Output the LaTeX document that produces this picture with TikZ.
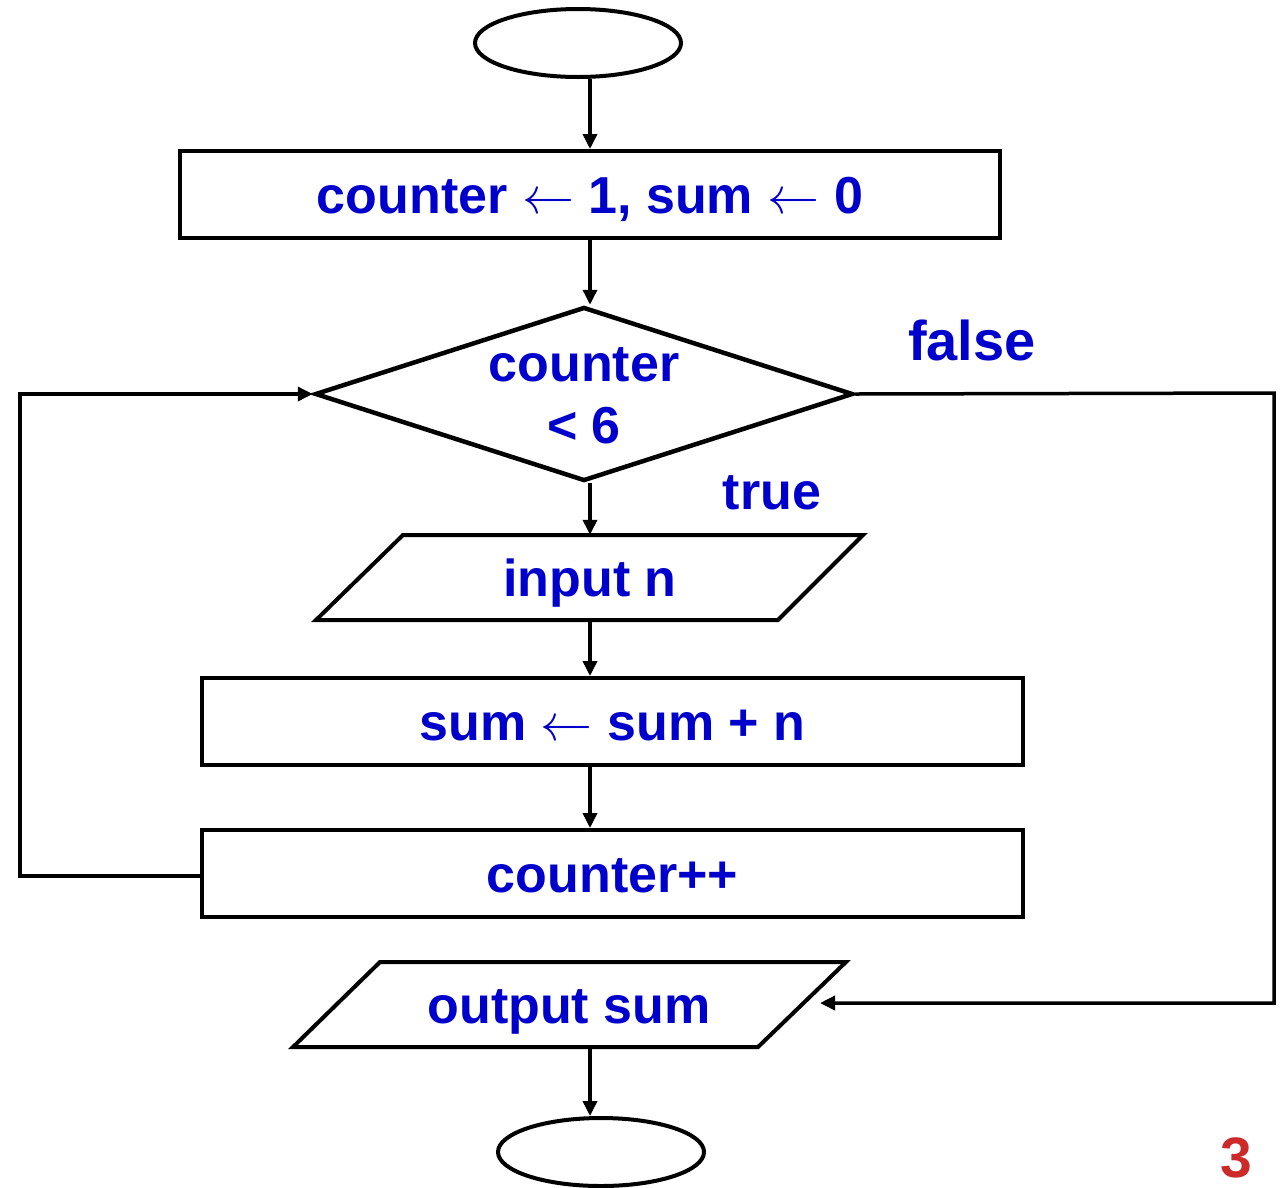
\RequirePackage{fix-cm}
\documentclass[tikz,border=0pt]{standalone}
\usepackage{fontspec}
\setmainfont{Liberation Sans}
\usetikzlibrary{shapes.geometric,arrows.meta}
\definecolor{txtblue}{RGB}{0,0,204}
\definecolor{numred}{RGB}{204,41,41}
\begin{document}
\begin{tikzpicture}[x=1pt,y=-1pt,
  shapeline/.style={draw=black,line width=4pt},
  flowbox/.style={shapeline,rectangle,inner sep=0pt,text=txtblue,text height=37pt,text depth=0pt,font=\bfseries\fontsize{52}{64}\selectfont},
  term/.style={shapeline,ellipse,inner sep=0pt,minimum width=206pt,minimum height=68pt},
  lbl/.style={text=txtblue,font=\bfseries\fontsize{52}{64}\selectfont,inner sep=0pt},
  plbl/.style={lbl,text height=37pt,text depth=0pt,minimum height=85pt},
  arr/.style={line width=3.5pt,-{Triangle[length=15pt,width=14pt]}}]
\useasboundingbox (0,0) rectangle (1285,1187);
% nodes
\node[term] (start) at (578,43) {};
\node[flowbox,minimum width=820pt,minimum height=87pt] (init) at (590,194.5) {counter $\leftarrow$ 1, sum $\leftarrow$ 0};
\node[shapeline,line width=4.5pt,diamond,inner sep=0pt,minimum width=538pt,minimum height=174pt] (dec) at (584,394) {};
\node[lbl,align=center] (dectext) at (584,396) {counter\\[-2pt]< 6};
\node[plbl,minimum width=547pt] (inp) at (590,577.5) {input n};
\draw[shapeline] ([shift={(-187,-42.5)}]inp.center) -- ([shift={(273,-42.5)}]inp.center)
  -- ([shift={(188,42.5)}]inp.center) -- ([shift={(-274,42.5)}]inp.center) -- cycle;
\node[flowbox,minimum width=821pt,minimum height=87pt] (sum) at (612.5,721.5) {sum $\leftarrow$ sum + n};
\node[flowbox,minimum width=821pt,minimum height=87pt] (cnt) at (612.5,873.5) {counter++};
\node[plbl,minimum width=552pt] (out) at (569,1004.5) {output sum};
\draw[shapeline] ([shift={(-189,-42.5)}]out.center) -- ([shift={(277,-42.5)}]out.center)
  -- ([shift={(189,42.5)}]out.center) -- ([shift={(-276,42.5)}]out.center) -- cycle;
\node[term] (stop) at (601,1152) {};
\node[lbl,font=\bfseries\fontsize{56}{64}\selectfont] (flbl) at (972,340) {false};
\node[lbl] (tlbl) at (772,493) {true};
\node[lbl,text=numred,anchor=base,text depth=0pt,font=\bfseries\fontsize{57}{64}\selectfont] (pnum) at (1236,1177) {3};
% helper coordinates
\coordinate (lf) at (20,876);
\coordinate (rt) at (1274,393);
\coordinate (outin) at (820,1003);
% connectors
\draw[arr] (init.north |- start.south) -- (init.north);
\draw[arr] (init.south) -- (init.south |- dec.north);
\draw[arr] (init.south |- dec.south) -- (init.south |- inp.north);
\draw[arr] (init.south |- inp.south) -- (init.south |- sum.north);
\draw[arr] (init.south |- sum.south) -- (init.south |- cnt.north);
\draw[arr] (init.south |- out.south) -- (init.south |- stop.north);
\draw[arr] (cnt.west |- lf) -- (lf) |- (dec.west);
\draw[arr] (dec.east) -- (rt) |- (outin);
\end{tikzpicture}
\end{document}
